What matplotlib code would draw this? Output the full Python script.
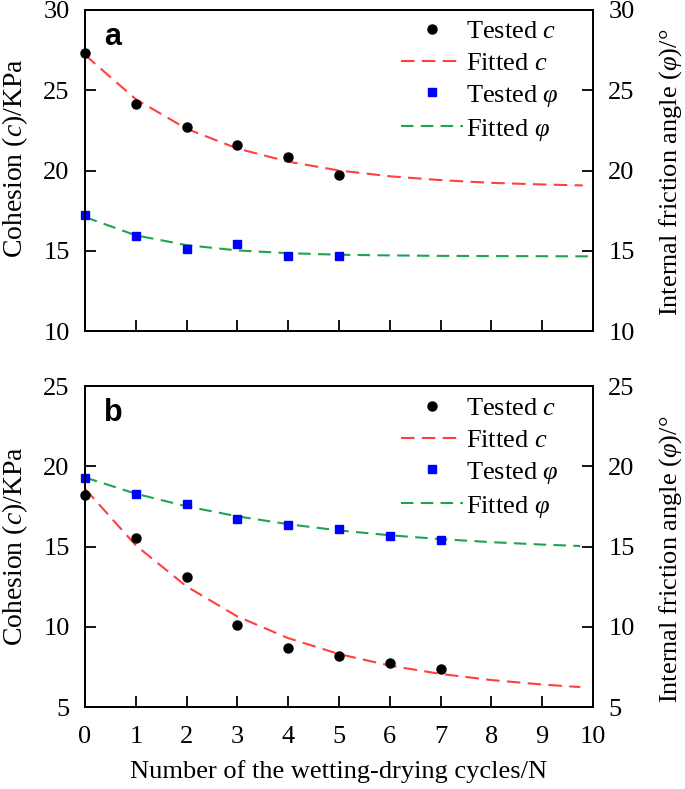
import matplotlib
matplotlib.use("Agg")
import matplotlib.pyplot as plt

plt.rcParams['font.family'] = ['Liberation Serif', 'DejaVu Serif']
plt.rcParams['mathtext.fontset'] = 'custom'
plt.rcParams['mathtext.rm'] = 'Liberation Serif'
plt.rcParams['mathtext.it'] = 'Liberation Serif:italic'

# ---- data ----
cycles_a = [0, 1, 2, 3, 4, 5]
tested_c_a = [27.3, 24.15, 22.7, 21.6, 20.85, 19.75]
tested_phi_a = [17.2, 15.95, 15.1, 15.4, 14.65, 14.7]

fit_x_a_c = [0, 1, 2, 3, 4, 5, 6, 7, 8, 9, 9.8]
fitted_c_a = [27.2, 24.44, 22.60, 21.37, 20.55, 20.00, 19.64, 19.40, 19.23, 19.13, 19.07]
fit_x_a_phi = [0, 1, 2, 3, 4, 5, 6, 7, 8, 9, 10]
fitted_phi_a = [17.10, 15.96, 15.35, 15.02, 14.85, 14.75, 14.71, 14.68, 14.67, 14.66, 14.65]

cycles_b = [0, 1, 2, 3, 4, 5, 6, 7]
tested_c_b = [18.2, 15.5, 13.12, 10.1, 8.66, 8.2, 7.76, 7.35]
tested_phi_b = [19.25, 18.25, 17.63, 16.71, 16.34, 16.09, 15.67, 15.4]

fit_x_b = [0, 1, 2, 3, 4, 5, 6, 7, 8, 9, 9.75]
fitted_c_b = [18.60, 15.07, 12.51, 10.64, 9.29, 8.30, 7.58, 7.06, 6.68, 6.40, 6.24]
fitted_phi_b = [19.30, 18.29, 17.50, 16.88, 16.39, 16.00, 15.70, 15.46, 15.27, 15.12, 15.03]

x_ticks = list(range(0, 11))
yticks_a = [10, 15, 20, 25, 30]
yticks_b = [5, 10, 15, 20, 25]

RED = '#ff4040'
GREEN = '#1fa352'
BLUE = '#0000ff'
FS = 19
W, H = 685, 789

fig = plt.figure(figsize=(6.85, 7.89), dpi=100)
def rect(l, r, t, b):
    return [l / W, 1 - b / H, (r - l) / W, (b - t) / H]
ax_a = fig.add_axes(rect(85, 593, 10, 331))
ax_b = fig.add_axes(rect(85, 593, 386, 707))

def style(ax, yticks, ylim, show_xlabels, label, ly_left, ly_right):
    ax.set_xlim(0, 10)
    ax.set_ylim(*ylim)
    ax.set_xticks(x_ticks)
    ax.set_yticks(yticks)
    ax.tick_params(axis='both', direction='in', length=8, width=1.3, labelsize=FS,
                   top=False, right=False)
    ax.tick_params(axis='y', pad=11)
    ax.tick_params(axis='x', pad=14)
    if not show_xlabels:
        ax.set_xticklabels([])
    for s in ax.spines.values():
        s.set_linewidth(1.3)
    ax.set_ylabel('Cohesion ($c$)/KPa', fontsize=20, va='center')
    ax.yaxis.set_label_coords(-0.138, ly_left)
    ax2 = ax.twinx()
    ax2.set_ylim(*ylim)
    ax2.set_yticks(yticks)
    ax2.tick_params(direction='in', length=8, width=1.3, labelsize=FS, pad=11)
    ax2.set_ylabel('Internal friction angle ($\\varphi$)/°', fontsize=FS, va='center')
    ax2.yaxis.set_label_coords(1.152, ly_right)
    for s in ax2.spines.values():
        s.set_linewidth(1.3)
    ax.text(0.037, 0.89, label, transform=ax.transAxes, fontsize=22, fontweight='bold',
            family='Liberation Sans', va='baseline', ha='left')
    return ax2

def draw(ax, cx, tc, tp, fxc, fc, fxp, fp, top_y):
    ax.plot(cx, tc, 'o', color='black', markersize=6.5, label='Tested $c$', clip_on=False, zorder=5)
    ax.plot(fxc, fc, color=RED, lw=1.5, dashes=(6.5, 3.5), label='Fitted $c$')
    ax.plot(cx, tp, 's', color=BLUE, markersize=5.5, label='Tested $\\varphi$', clip_on=False, zorder=5)
    ax.plot(fxp, fp, color=GREEN, lw=1.5, dashes=(6.0, 3.5), label='Fitted $\\varphi$')
    leg = ax.legend(loc='upper left', bbox_to_anchor=(0.622, top_y), frameon=False, fontsize=FS,
                    handlelength=2.35, handletextpad=0.12, labelspacing=0.3, borderpad=0,
                    borderaxespad=0, markerfirst=True)
    return leg

style(ax_a, yticks_a, (10, 30), False, 'a', 0.539, 0.495)
draw(ax_a, cycles_a, tested_c_a, tested_phi_a, fit_x_a_c, fitted_c_a, fit_x_a_phi, fitted_phi_a, 0.969)
style(ax_b, yticks_b, (5, 25), True, 'b', 0.5, 0.461)
draw(ax_b, cycles_b, tested_c_b, tested_phi_b, fit_x_b, fitted_c_b, fit_x_b, fitted_phi_b, 0.966)
ax_b.set_xlabel('Number of the wetting-drying cycles/N', fontsize=FS, va='center')
ax_b.xaxis.set_label_coords(0.5, (707 - 772) / 321)

fig.savefig('out.png', dpi=100)
